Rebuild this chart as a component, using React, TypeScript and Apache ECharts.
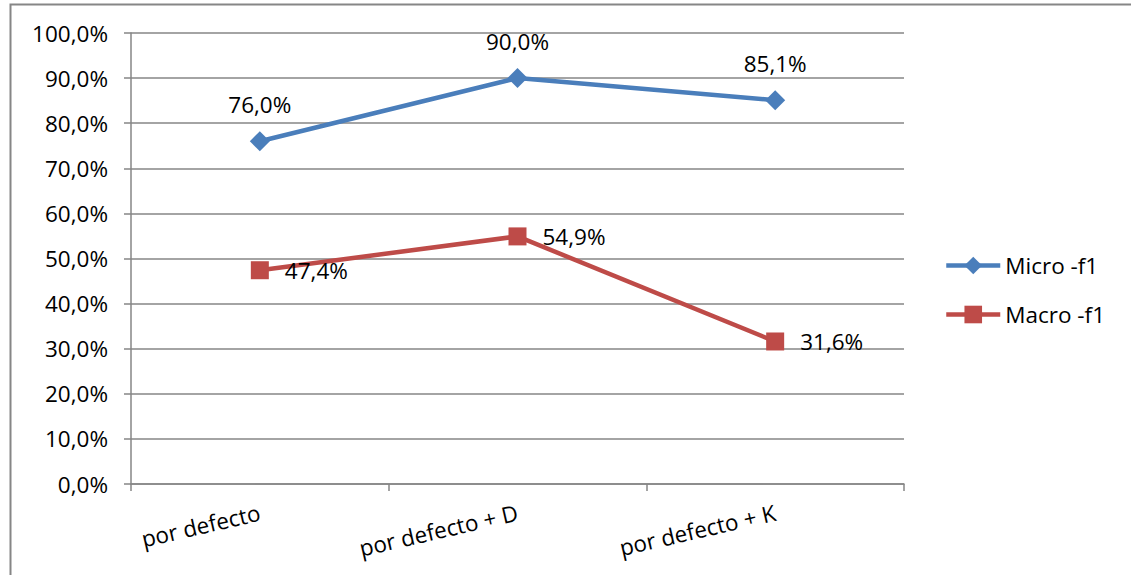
import React, { useEffect, useRef } from "react";
import * as echarts from "echarts";

const categories = ["por defecto", "por defecto + D", "por defecto + K"];
const microF1 = [76.0, 90.0, 85.1];
const macroF1 = [47.4, 54.9, 31.6];
const seriesNames = ["Micro -f1", "Macro -f1"];

const FONT = "'Open Sans', 'Noto Sans', sans-serif";
const FS = 22.5;
const pct = (v: number) => v.toFixed(1).replace(".", ",") + "%";

export default function App() {
  const ref = useRef<HTMLDivElement>(null);

  useEffect(() => {
    if (!ref.current) return;
    const chart = echarts.init(ref.current, null, { renderer: "svg" });
    chart.setOption({
      animation: false,
      backgroundColor: "#ffffff",
      textStyle: { fontFamily: FONT },
      graphic: [
        {
          type: "rect",
          shape: { x: 10.5, y: 4.5, width: 1200, height: 700 },
          style: { fill: "none", stroke: "#868686", lineWidth: 2 },
          silent: true,
        },
      ],
      grid: { left: 131, right: 227, top: 33, bottom: 91, containLabel: false },
      legend: {
        orient: "vertical",
        left: 944,
        top: 254,
        padding: 0,
        itemWidth: 54,
        itemHeight: 22,
        itemGap: 26,
        textStyle: { fontFamily: FONT, fontSize: FS, color: "#000" },
        lineStyle: { width: 4.5 },
        data: seriesNames,
      },
      xAxis: {
        type: "category",
        data: categories,
        boundaryGap: true,
        axisLine: { lineStyle: { color: "#868686", width: 1.5 } },
        axisTick: { show: true, length: 7, alignWithLabel: false, lineStyle: { color: "#868686", width: 1.5 } },
        axisLabel: {
          rotate: 13,
          margin: 28,
          fontFamily: FONT,
          fontSize: FS,
          color: "#000",
        },
      },
      yAxis: {
        type: "value",
        min: 0,
        max: 100,
        interval: 10,
        axisLine: { show: true, lineStyle: { color: "#868686", width: 1.5 } },
        axisTick: { show: true, length: 7, lineStyle: { color: "#868686", width: 1.5 } },
        splitLine: { lineStyle: { color: "#868686", width: 1.5 } },
        axisLabel: {
          formatter: (v: number) => pct(v),
          margin: 23,
          fontFamily: FONT,
          fontSize: FS,
          color: "#000",
        },
      },
      series: [
        {
          name: seriesNames[0],
          type: "line",
          data: microF1,
          color: "#4A7EBB",
          lineStyle: { width: 4.5, color: "#4A7EBB" },
          symbol: "diamond",
          symbolSize: 20,
          itemStyle: { color: "#4A7EBB" },
          label: {
            show: true,
            position: "top",
            distance: 15,
            formatter: (p: any) => pct(p.value),
            fontFamily: FONT,
            fontSize: FS,
            color: "#000",
          },
          z: 3,
        },
        {
          name: seriesNames[1],
          type: "line",
          data: macroF1,
          color: "#BE4B48",
          lineStyle: { width: 4.5, color: "#BE4B48" },
          symbol: "rect",
          symbolSize: 18,
          itemStyle: { color: "#BE4B48" },
          label: {
            show: true,
            position: "right",
            distance: 16,
            formatter: (p: any) => pct(p.value),
            fontFamily: FONT,
            fontSize: FS,
            color: "#000",
          },
          z: 2,
        },
      ],
    });
    return () => chart.dispose();
  }, []);

  return (
    <div
      ref={ref}
      style={{ position: "absolute", left: 0, top: 0, width: 1131, height: 575 }}
    />
  );
}
